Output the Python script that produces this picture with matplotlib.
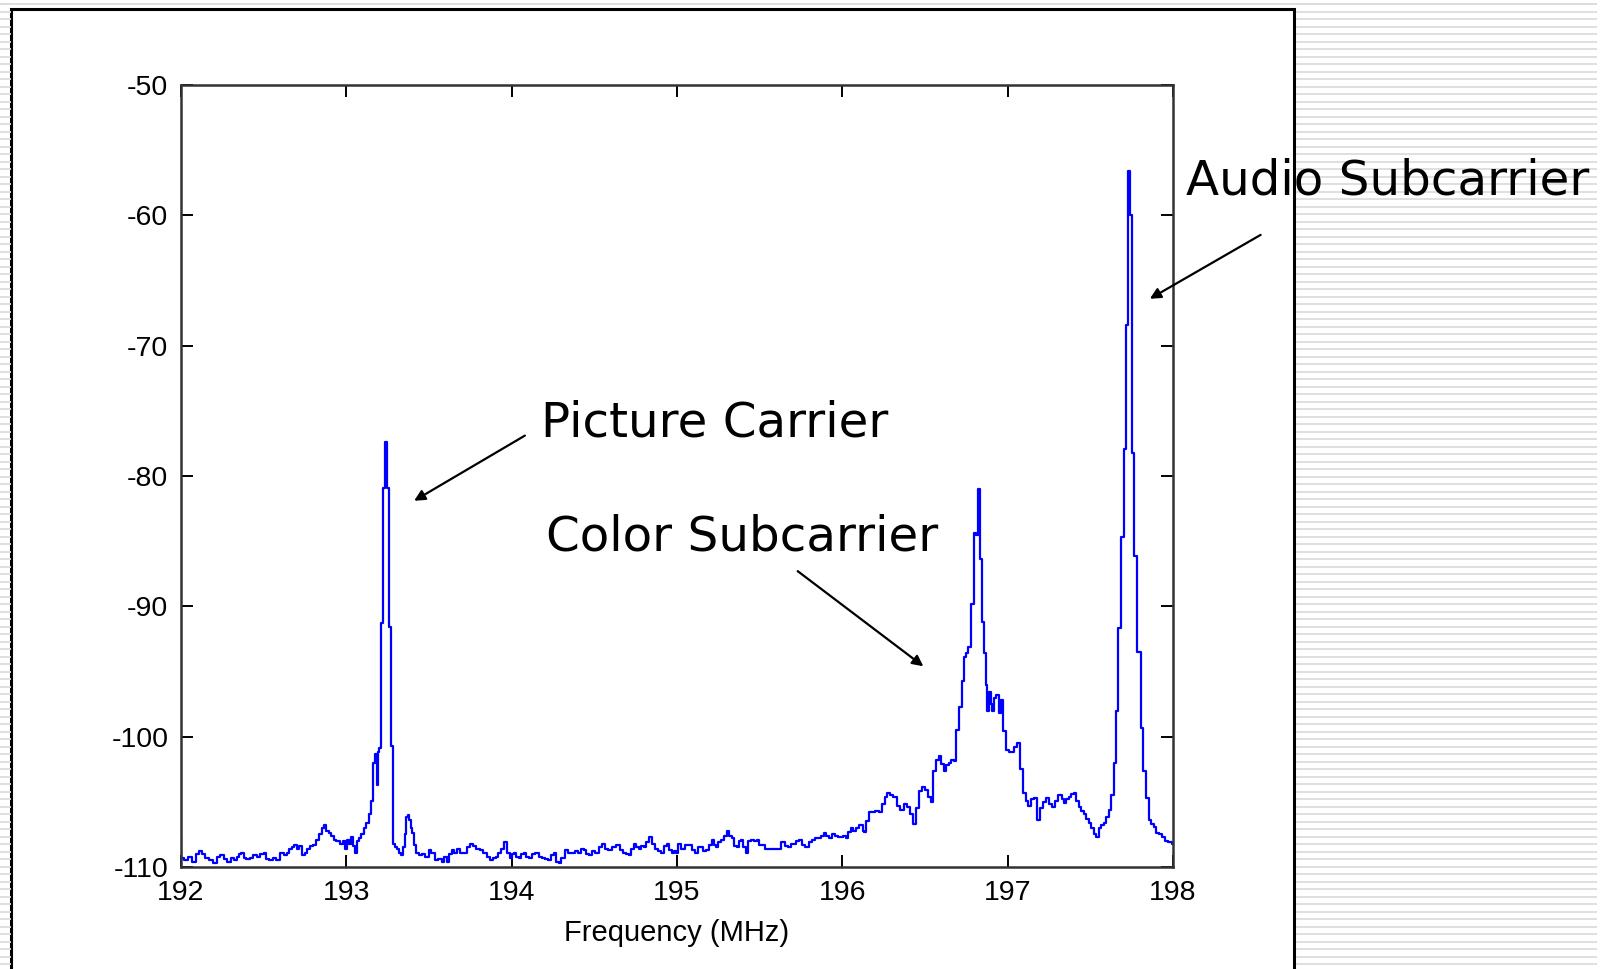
import numpy as np
import matplotlib
matplotlib.use("Agg")
import matplotlib.pyplot as plt
from matplotlib.patches import Rectangle

# spectrum (MHz, dB)
freq_mhz = [
    192.000, 192.004, 192.030, 192.054, 192.080, 192.100, 192.115, 192.135, 192.157, 192.180,
    192.206, 192.225, 192.248, 192.270, 192.290, 192.310, 192.327, 192.345, 192.357, 192.372,
    192.387, 192.405, 192.429, 192.448, 192.466, 192.490, 192.508, 192.525, 192.545, 192.565,
    192.585, 192.611, 192.630, 192.647, 192.662, 192.677, 192.695, 192.708, 192.722, 192.740,
    192.756, 192.774, 192.790, 192.810, 192.829, 192.845, 192.860, 192.871, 192.885, 192.901,
    192.918, 192.931, 192.950, 192.970, 192.985, 192.998, 193.010, 193.022, 193.034, 193.045,
    193.058, 193.071, 193.083, 193.095, 193.113, 193.130, 193.143, 193.155, 193.167, 193.180,
    193.186, 193.192, 193.204, 193.216, 193.228, 193.240, 193.252, 193.264, 193.276, 193.288,
    193.300, 193.313, 193.325, 193.337, 193.348, 193.358, 193.367, 193.376, 193.385, 193.395,
    193.403, 193.415, 193.427, 193.446, 193.466, 193.488, 193.506, 193.524, 193.545, 193.567,
    193.585, 193.597, 193.615, 193.630, 193.645, 193.660, 193.675, 193.695, 193.718, 193.740,
    193.760, 193.778, 193.796, 193.818, 193.839, 193.860, 193.881, 193.896, 193.911, 193.928,
    193.942, 193.960, 193.978, 193.996, 194.010, 194.020, 194.035, 194.050, 194.066, 194.081,
    194.096, 194.111, 194.130, 194.153, 194.172, 194.190, 194.212, 194.232, 194.248, 194.262,
    194.278, 194.292, 194.310, 194.335, 194.352, 194.371, 194.390, 194.413, 194.428, 194.444,
    194.458, 194.474, 194.495, 194.516, 194.535, 194.552, 194.572, 194.595, 194.615, 194.643,
    194.665, 194.686, 194.700, 194.716, 194.730, 194.746, 194.762, 194.776, 194.792, 194.806,
    194.822, 194.837, 194.858, 194.879, 194.895, 194.909, 194.928, 194.946, 194.962, 194.976,
    194.990, 195.000, 195.018, 195.036, 195.058, 195.079, 195.100, 195.121, 195.136, 195.151,
    195.165, 195.182, 195.200, 195.218, 195.230, 195.242, 195.260, 195.278, 195.295, 195.309,
    195.325, 195.339, 195.355, 195.369, 195.382, 195.393, 195.408, 195.423, 195.440, 195.454,
    195.472, 195.490, 195.505, 195.520, 195.540, 195.562, 195.590, 195.623, 195.641, 195.660,
    195.683, 195.700, 195.714, 195.730, 195.744, 195.765, 195.786, 195.805, 195.823, 195.845,
    195.865, 195.880, 195.895, 195.910, 195.925, 195.945, 195.968, 195.985, 195.998, 196.015,
    196.028, 196.045, 196.058, 196.075, 196.095, 196.108, 196.119, 196.130, 196.137, 196.150,
    196.167, 196.190, 196.210, 196.228, 196.250, 196.265, 196.276, 196.295, 196.319, 196.340,
    196.361, 196.380, 196.397, 196.418, 196.440, 196.455, 196.470, 196.488, 196.512, 196.530,
    196.542, 196.560, 196.575, 196.591, 196.608, 196.621, 196.636, 196.651, 196.668, 196.682,
    196.694, 196.712, 196.730, 196.742, 196.754, 196.772, 196.790, 196.803, 196.815, 196.827,
    196.839, 196.845, 196.863, 196.869, 196.881, 196.893, 196.905, 196.911, 196.925, 196.936,
    196.954, 196.966, 196.978, 197.002, 197.020, 197.032, 197.050, 197.063, 197.087, 197.099,
    197.117, 197.135, 197.150, 197.165, 197.184, 197.208, 197.225, 197.244, 197.260, 197.274,
    197.295, 197.317, 197.335, 197.347, 197.362, 197.377, 197.392, 197.407, 197.425, 197.438,
    197.455, 197.468, 197.485, 197.498, 197.516, 197.530, 197.540, 197.559, 197.575, 197.589,
    197.605, 197.619, 197.637, 197.649, 197.661, 197.673, 197.692, 197.710, 197.722, 197.734,
    197.746, 197.752, 197.758, 197.776, 197.794, 197.813, 197.825, 197.843, 197.861, 197.875,
    197.891, 197.909, 197.925, 197.940, 197.960, 197.982, 198.000,
]
power_db = [
    -107.7, -109.3, -109.5, -109.2, -109.6, -109.0, -108.8, -109.0, -109.3, -109.5,
    -109.7, -109.2, -109.1, -109.4, -109.6, -109.3, -109.5, -109.2, -109.0, -108.9,
    -109.3, -109.4, -109.3, -109.1, -109.2, -109.0, -108.9, -109.4, -109.5, -109.3,
    -109.5, -108.9, -109.1, -108.9, -108.6, -108.5, -108.3, -108.6, -108.4, -109.1,
    -108.9, -108.6, -108.4, -108.3, -107.9, -107.5, -107.0, -106.8, -107.2, -107.4,
    -107.6, -107.9, -108.0, -108.2, -108.0, -108.6, -107.9, -108.2, -107.7, -108.4,
    -108.9, -108.0, -107.8, -107.5, -107.0, -106.6, -105.9, -104.9, -102.0, -101.3,
    -103.7, -101.2, -100.9, -91.3, -80.9, -77.4, -80.9, -91.6, -100.7, -108.2,
    -108.5, -108.6, -108.9, -109.1, -108.5, -107.5, -106.2, -106.0, -106.4, -107.0,
    -107.4, -108.3, -108.9, -109.1, -109.0, -109.2, -108.7, -108.9, -109.5, -109.4,
    -109.6, -109.2, -109.6, -109.0, -108.7, -108.9, -108.6, -108.9, -108.9, -108.5,
    -108.2, -108.4, -108.6, -108.7, -108.9, -109.2, -109.5, -109.3, -109.2, -108.9,
    -108.6, -108.1, -108.9, -109.3, -109.0, -108.9, -109.2, -109.3, -109.0, -108.9,
    -109.2, -109.3, -109.0, -108.9, -109.2, -109.3, -109.4, -109.5, -109.1, -108.9,
    -109.6, -109.7, -109.3, -108.7, -108.9, -108.9, -108.8, -108.9, -108.6, -108.7,
    -109.0, -109.1, -108.8, -108.9, -108.5, -108.2, -108.6, -108.7, -108.5, -108.3,
    -108.7, -108.9, -109.0, -109.1, -108.6, -108.2, -108.5, -108.6, -108.4, -108.5,
    -108.1, -107.7, -108.2, -108.6, -108.8, -108.9, -108.4, -108.2, -108.7, -108.9,
    -108.8, -108.9, -108.2, -108.6, -108.3, -108.3, -108.7, -108.9, -108.5, -108.5,
    -108.8, -108.7, -108.3, -107.9, -108.3, -108.5, -108.1, -107.9, -107.6, -107.2,
    -107.6, -107.8, -108.4, -108.5, -108.0, -107.9, -108.5, -108.9, -108.0, -107.9,
    -108.0, -107.9, -108.3, -108.3, -108.6, -108.6, -108.6, -108.6, -108.1, -108.4,
    -108.5, -108.2, -108.2, -108.0, -107.9, -108.3, -108.5, -108.1, -107.9, -107.8,
    -107.8, -107.6, -107.4, -107.6, -107.8, -107.5, -107.6, -107.7, -107.7, -107.6,
    -107.8, -107.3, -107.0, -107.2, -107.0, -106.8, -106.8, -107.2, -107.3, -106.5,
    -105.8, -105.8, -105.7, -105.8, -105.2, -104.6, -104.3, -104.5, -104.6, -105.3,
    -105.6, -105.2, -105.4, -105.9, -106.7, -105.5, -104.2, -103.9, -104.1, -104.6,
    -105.0, -102.6, -101.8, -101.5, -102.1, -102.6, -102.2, -102.0, -101.8, -101.9,
    -99.5, -97.7, -95.7, -93.9, -93.6, -93.1, -89.8, -84.4, -84.5, -81.0,
    -86.4, -91.2, -93.6, -96.0, -98.0, -96.6, -97.5, -98.0, -97.0, -96.8,
    -98.2, -97.2, -99.6, -101.0, -101.2, -101.2, -100.8, -100.5, -102.5, -104.3,
    -104.9, -105.3, -104.8, -104.7, -106.4, -105.5, -105.0, -104.7, -105.2, -105.4,
    -104.9, -104.5, -104.8, -105.1, -104.8, -104.6, -104.4, -104.3, -104.9, -105.4,
    -105.7, -105.9, -106.3, -106.6, -107.0, -107.5, -107.7, -107.0, -106.8, -106.6,
    -106.2, -105.6, -104.5, -102.0, -98.0, -91.7, -84.7, -77.9, -68.4, -56.6,
    -60.0, -68.9, -78.2, -86.1, -93.5, -99.3, -102.6, -104.7, -106.4, -106.7,
    -106.9, -107.4, -107.5, -107.7, -108.0, -108.1, -108.2,
]

x_ticks = [192, 193, 194, 195, 196, 197, 198]
y_ticks = [-110, -100, -90, -80, -70, -60, -50]

# labels: text, text start (MHz, dB), arrow tail, arrow head
labels = ["Picture Carrier", "Color Subcarrier", "Audio Subcarrier"]
label_pos = [(194.18, -77.0), (194.21, -85.7), (198.08, -58.4)]
arrow_tail = [(194.08, -76.9), (195.73, -87.3), (198.53, -61.5)]
arrow_head = [(193.41, -81.9), (196.49, -94.6), (197.86, -66.4)]

W, H = 1611, 969
fig = plt.figure(figsize=(W / 100, H / 100), dpi=100)

# slide background: striped margin and framed white panel
bg = fig.add_axes([0, 0, 1, 1])
bg.set_xlim(0, W)
bg.set_ylim(H, 0)
bg.axis("off")
stripe_y = np.arange(4, H, 7.5)
bg.hlines(stripe_y, 0, 11, color="#dcdcdc", lw=1.3)
bg.hlines(stripe_y, 1296, 1597, color="#dcdcdc", lw=1.3)
bg.hlines([4], 0, 1597, color="#dcdcdc", lw=1.3)
bg.add_patch(Rectangle((11, 9), 1283, 1000, facecolor="white",
                       edgecolor="black", lw=2.2))

ax = fig.add_axes([181 / W, 1 - 867 / H, 992 / W, 782 / H])
ax.plot(freq_mhz, power_db, color="#0000ff", lw=1.6, drawstyle="steps-mid")
ax.set_xlim(192, 198)
ax.set_ylim(-110, -50)
ax.set_xticks(x_ticks)
ax.set_yticks(y_ticks)

tick_font = ["Liberation Sans", "DejaVu Sans"]
ax.set_xticklabels([str(t) for t in x_ticks], family=tick_font)
ax.set_yticklabels([str(t) for t in y_ticks], family=tick_font)
ax.tick_params(direction="in", length=8.5, width=1.4, top=True, right=True,
               labelsize=20.5, pad=9, colors="black")
for s in ax.spines.values():
    s.set_linewidth(1.8)
    s.set_color("#333333")
ax.set_xlabel("Frequency (MHz)", fontsize=21, family=tick_font, labelpad=10)

for txt, pos, tail, head in zip(labels, label_pos, arrow_tail, arrow_head):
    ax.text(pos[0], pos[1], txt, fontsize=34.8, family="DejaVu Sans",
            ha="left", va="baseline", clip_on=False)
    ax.annotate("", xy=head, xytext=tail, annotation_clip=False,
                arrowprops=dict(arrowstyle="-|>", color="black", lw=1.6,
                                mutation_scale=16, shrinkA=0, shrinkB=0))

fig.savefig("out.png", dpi=100)
